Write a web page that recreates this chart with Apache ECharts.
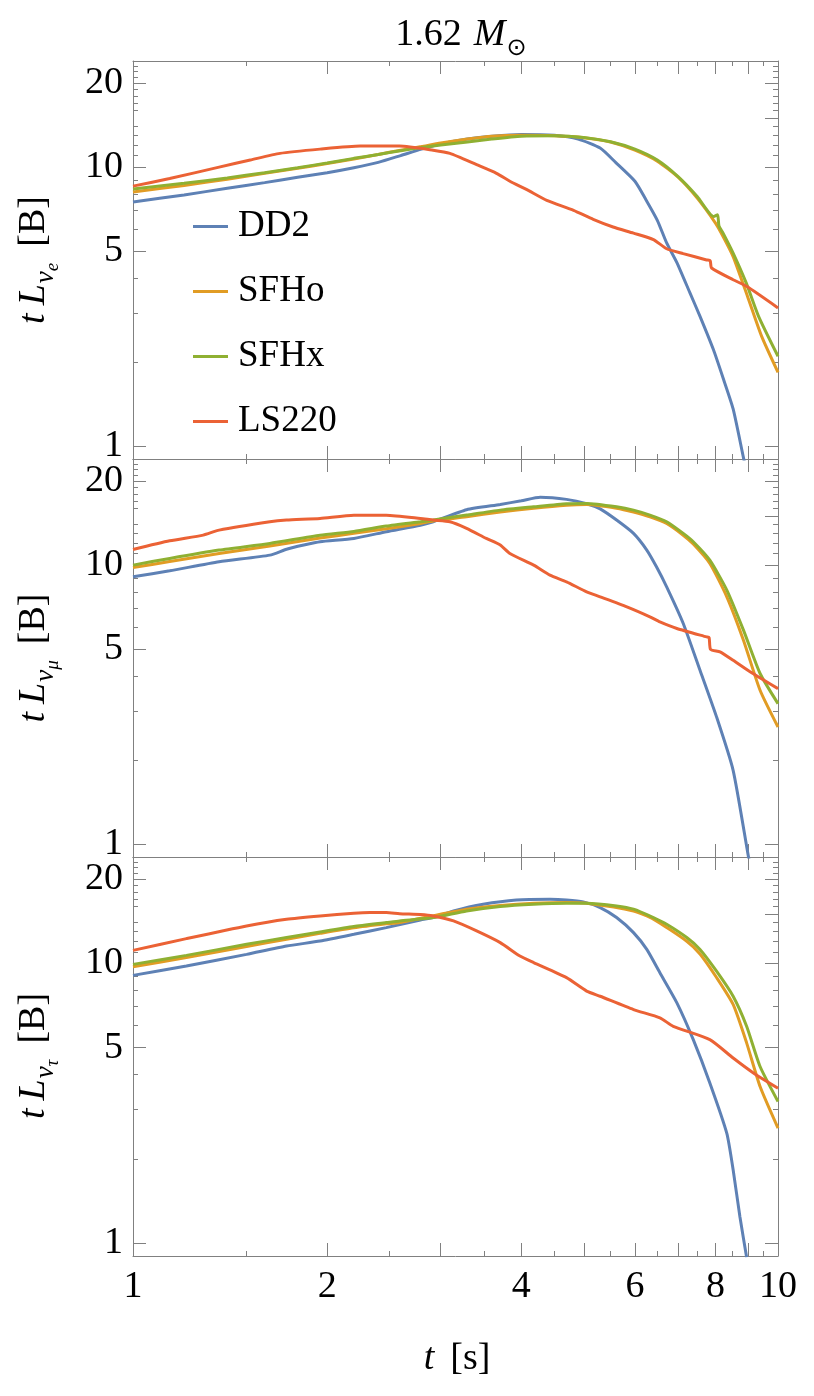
<!DOCTYPE html>
<html>
<head>
<meta charset="utf-8">
<title>1.62 M⊙ – t·L per flavour</title>
<script src="https://cdn.jsdelivr.net/npm/echarts@6.0.0/dist/echarts.min.js"></script>
<style>
  html, body { margin: 0; padding: 0; background: #fff; }
  #chart { width: 814px; height: 1396px; }
</style>
</head>
<body>
<div id="chart"></div>
<script>
// ---- data: [t (s), t*L (B)] ----
// nu_e
const nueDD2 = [[1,7.5],[1.2,7.95],[1.4,8.4],[1.6,8.8],[1.8,9.2],[2,9.55],[2.2,9.95],[2.4,10.4],[2.6,11.0],[2.8,11.6],[3,12.1],[3.3,12.6],[3.6,12.9],[4,13.1],[4.5,13.0],[4.9,12.6],[5.3,11.7],[5.6,10.4],[6,8.9],[6.25,7.6],[6.5,6.45],[6.72,5.35],[6.97,4.55],[7.3,3.55],[7.57,2.92],[7.94,2.22],[8.23,1.74],[8.52,1.36],[8.84,0.91],[8.95,0.8]];
const nueSFHo = [[1,8.15],[1.2,8.6],[1.4,9.05],[1.6,9.5],[1.8,9.9],[2,10.3],[2.2,10.7],[2.4,11.1],[2.6,11.5],[2.8,11.85],[3,12.2],[3.3,12.6],[3.6,12.9],[4,13.0],[4.5,12.95],[5,12.75],[5.5,12.3],[6,11.5],[6.5,10.5],[7,9.2],[7.5,7.73],[8,6.3],[8.22,5.64],[8.52,4.78],[8.97,3.44],[9.43,2.48],[10,1.84]];
const nueSFHx = [[1,8.35],[1.2,8.75],[1.4,9.15],[1.6,9.55],[1.8,9.95],[2,10.35],[2.2,10.75],[2.4,11.1],[2.6,11.45],[2.8,11.75],[3,12.0],[3.3,12.3],[3.6,12.6],[4,12.9],[4.5,12.95],[5,12.77],[5.5,12.32],[6,11.6],[6.5,10.6],[7,9.24],[7.5,7.83],[7.95,6.65],[8.06,6.75],[8.1,6.15],[8.22,5.8],[8.52,4.92],[8.93,3.84],[9.33,2.92],[10,2.1]];
const nueLS220 = [[1,8.55],[1.14,9.1],[1.36,10.0],[1.52,10.6],[1.69,11.2],[1.95,11.6],[2.25,11.9],[2.59,11.9],[2.92,11.5],[3.1,11.2],[3.41,10.2],[3.66,9.5],[3.84,8.9],[4.08,8.3],[4.38,7.6],[4.82,7.0],[5.17,6.5],[5.55,6.1],[5.97,5.8],[6.41,5.5],[6.72,5.1],[7.13,4.9],[7.75,4.65],[7.85,4.62],[7.89,4.35],[8.52,3.95],[8.94,3.74],[10,3.13]];
// nu_mu
const numDD2 = [[1,9.08],[1.14,9.54],[1.36,10.28],[1.63,10.86],[1.73,11.4],[1.84,11.8],[1.95,12.13],[2.2,12.46],[2.47,13.17],[2.79,13.9],[2.92,14.3],[3.29,15.8],[3.71,16.5],[4,17.0],[4.28,17.5],[4.7,17.2],[5.05,16.6],[5.3,15.9],[5.62,14.5],[5.97,12.99],[6.26,11.32],[6.48,9.86],[6.72,8.36],[7.13,6.18],[7.57,4.2],[8.03,2.86],[8.52,1.84],[9.0,0.9],[9.05,0.85]];
const numSFHo = [[1,9.8],[1.14,10.3],[1.36,11.0],[1.63,11.7],[1.95,12.5],[2.2,13.0],[2.47,13.5],[2.79,14.1],[2.92,14.4],[3.29,14.9],[3.71,15.5],[4.18,16.0],[4.7,16.4],[5.05,16.5],[5.62,16.0],[5.97,15.5],[6.33,14.9],[6.72,14.1],[7.13,12.8],[7.39,11.9],[7.84,10.14],[8.33,7.7],[8.84,5.38],[9.38,3.56],[10,2.63]];
const numSFHx = [[1,10.0],[1.14,10.57],[1.36,11.32],[1.63,11.96],[1.95,12.8],[2.2,13.2],[2.47,13.8],[2.79,14.3],[2.92,14.5],[3.29,15.11],[3.71,15.74],[4.18,16.18],[4.7,16.6],[5.05,16.64],[5.62,16.18],[5.97,15.74],[6.33,15.11],[6.72,14.3],[7.13,12.99],[7.39,12.13],[7.84,10.42],[8.33,8.14],[8.84,5.85],[9.38,4.09],[10,3.19]];
const numLS220 = [[1,11.38],[1.14,12.22],[1.285,12.81],[1.36,13.35],[1.63,14.3],[1.73,14.5],[1.95,14.7],[2.2,15.1],[2.47,15.1],[2.79,14.7],[2.92,14.5],[3.1,14.3],[3.29,13.54],[3.53,12.46],[3.71,11.8],[3.84,11.01],[4.18,10.0],[4.43,9.21],[4.7,8.71],[5.05,8.02],[5.3,7.7],[5.83,7.09],[6.33,6.53],[6.56,6.26],[6.97,5.93],[7.75,5.53],[7.82,5.5],[7.86,4.99],[8.13,4.89],[8.52,4.56],[9.05,4.15],[10,3.61]];
// nu_tau
const nutDD2 = [[1,9.06],[1.21,9.78],[1.5,10.77],[1.73,11.53],[1.95,12.02],[2.2,12.7],[2.47,13.42],[2.79,14.3],[2.92,14.58],[3.14,15.4],[3.49,16.27],[3.93,16.86],[4.43,16.96],[4.7,16.86],[4.99,16.59],[5.3,15.83],[5.62,14.58],[5.97,12.88],[6.26,11.22],[6.56,9.26],[6.97,7.23],[7.39,5.34],[7.84,3.74],[8.33,2.47],[8.52,1.83],[8.73,1.24],[8.94,0.89]];
const nutSFHo = [[1,9.73],[1.21,10.5],[1.5,11.5],[1.73,12.2],[1.95,12.8],[2.2,13.4],[2.47,13.85],[2.59,14.0],[3.29,15.6],[3.71,16.1],[4.18,16.4],[4.7,16.5],[5.05,16.4],[5.97,15.4],[6.41,14.4],[7.22,12.0],[7.57,10.8],[8.03,8.9],[8.52,7.13],[8.94,5.2],[9.38,3.63],[10,2.58]];
const nutSFHx = [[1,9.92],[1.21,10.68],[1.5,11.7],[1.73,12.37],[1.95,12.95],[2.2,13.54],[2.47,13.99],[2.59,14.18],[2.92,14.58],[3.29,15.4],[3.71,15.97],[4.18,16.27],[4.7,16.41],[5.05,16.41],[5.62,16.05],[5.97,15.62],[6.41,14.58],[6.72,13.8],[7.22,12.37],[7.57,11.22],[8.03,9.38],[8.52,7.63],[8.94,5.96],[9.38,4.28],[10,3.21]];
const nutLS220 = [[1,11.13],[1.21,12.26],[1.5,13.61],[1.73,14.38],[1.95,14.78],[2.2,15.11],[2.33,15.19],[2.47,15.19],[2.59,15.05],[2.79,14.95],[2.92,14.78],[3.14,14.18],[3.41,13.06],[3.71,11.86],[3.98,10.62],[4.18,10.06],[4.7,8.89],[5.05,7.96],[5.3,7.63],[5.97,6.84],[6.56,6.39],[6.88,5.96],[7.84,5.34],[8.52,4.59],[9.16,4.06],[10,3.58]];

const eosNames = ['DD2', 'SFHo', 'SFHx', 'LS220'];
const flavourSubs = ['e', 'μ', 'τ'];
const xMajorTicks = [1, 2, 3, 4, 5, 6, 7, 8, 9, 10];
const xMinorTicks = [1.5, 2.5, 3.5, 4.5, 5.5, 6.5, 7.5, 8.5, 9.5];
const xTickLabels = [1, 2, 4, 6, 8, 10];
const yMajorTicks = [1, 5, 10, 15, 20];
const yMinorTicks = [2, 3, 4, 6, 7, 8, 9, 11, 12, 13, 14, 16, 17, 18, 19, 21, 22, 23, 24];
const yTickLabels = [1, 5, 10, 15, 20];

const panelData = [
  [nueDD2, nueSFHo, nueSFHx, nueLS220],
  [numDD2, numSFHo, numSFHx, numLS220],
  [nutDD2, nutSFHo, nutSFHx, nutLS220]
];

// ---- look ----
const colors = ['#5e81b5', '#e19c24', '#8fb032', '#eb6235'];
const FONT = "'Liberation Serif', 'DejaVu Serif', serif";
const frameColor = '#808080';
const plotLeft = 133;
const plotWidth = 645;
const panelTop = [61, 459, 857];
const panelHeight = 398;

const chart = echarts.init(document.getElementById('chart'), null, { renderer: 'canvas' });

const fmt = v => String(+(+v).toFixed(3));

function xAxisFor(g, position, ticks, len, showLine, labels) {
  return {
    type: 'log', logBase: 10, gridIndex: g, min: 1, max: 10, position: position,
    axisLine: { show: showLine, onZero: false, lineStyle: { color: frameColor, width: 1 } },
    axisTick: { show: true, inside: true, length: len, customValues: ticks, lineStyle: { color: frameColor, width: 1 } },
    axisLabel: labels
      ? { show: true, customValues: labels, margin: 12, hideOverlap: false, showMinLabel: true, showMaxLabel: true,
          fontFamily: FONT, fontSize: 38, color: '#000', formatter: fmt }
      : { show: false },
    splitLine: { show: false },
    minorTick: { show: false },
    minorSplitLine: { show: false }
  };
}

function yAxisFor(g, position, ticks, len, showLine, labels) {
  return {
    type: 'log', logBase: 10, gridIndex: g, min: 0.9, max: 24, position: position,
    axisLine: { show: showLine, onZero: false, lineStyle: { color: frameColor, width: 1 } },
    axisTick: { show: true, inside: true, length: len, customValues: ticks, lineStyle: { color: frameColor, width: 1 } },
    axisLabel: labels
      ? { show: true, customValues: labels, margin: 10, hideOverlap: false, showMinLabel: true, showMaxLabel: true,
          fontFamily: FONT, fontSize: 38, lineHeight: 30, color: '#000', formatter: fmt }
      : { show: false },
    splitLine: { show: false },
    minorTick: { show: false },
    minorSplitLine: { show: false }
  };
}

const grids = [];
const xAxes = [];
const yAxes = [];
// main axes first so that series use index g
panelTop.forEach((top, g) => {
  grids.push({ left: plotLeft, top: top, width: plotWidth, height: g === 2 ? panelHeight + 1 : panelHeight, containLabel: false, outerBoundsMode: 'none' });
  xAxes.push(xAxisFor(g, 'bottom', xMajorTicks, 13, true, g === 2 ? xTickLabels : null));
  yAxes.push(yAxisFor(g, 'left', yMajorTicks, 13, true, yTickLabels));
});
// extra tick rows: minor ticks and the top / right frame
panelTop.forEach((top, g) => {
  xAxes.push(xAxisFor(g, 'bottom', xMinorTicks, 5, false, null));
  xAxes.push(xAxisFor(g, 'top', xMajorTicks, 13, true, null));
  xAxes.push(xAxisFor(g, 'top', xMinorTicks, 5, false, null));
  yAxes.push(yAxisFor(g, 'left', yMinorTicks, 5, false, null));
  yAxes.push(yAxisFor(g, 'right', yMajorTicks, 13, true, null));
  yAxes.push(yAxisFor(g, 'right', yMinorTicks, 5, false, null));
});

const series = [];
panelData.forEach((curves, g) => {
  curves.forEach((d, k) => {
    series.push({
      name: eosNames[k],
      type: 'line',
      xAxisIndex: g,
      yAxisIndex: g,
      data: d,
      showSymbol: false,
      symbol: 'none',
      smooth: 0.2,
      color: colors[k],
      lineStyle: { width: 3, color: colors[k] },
      emphasis: { disabled: true },
      z: 2
    });
  });
});

// ---- math-like labels built from positioned text pieces ----
const measureCtx = document.createElement('canvas').getContext('2d');
function pieceFont(p) {
  return (p.italic ? 'italic ' : '') + p.size + 'px ' + (p.family || FONT);
}
// pieces: { t, size, italic, dy (baseline shift, + = down), gap (space before) }
function mathLabel(x, y, pieces, rotation) {
  let w = 0;
  const placed = pieces.map(p => {
    measureCtx.font = pieceFont(p);
    const pw = measureCtx.measureText(p.t).width;
    const item = { p: p, x: w + (p.gap || 0) };
    w = item.x + pw;
    return item;
  });
  return {
    type: 'group',
    x: x,
    y: y,
    rotation: rotation || 0,
    silent: true,
    children: placed.map(it => ({
      type: 'text',
      x: it.x - w / 2,
      y: (it.p.dy || 0) - 0.34 * it.p.size,
      style: {
        text: it.p.t,
        fontFamily: it.p.family || FONT,
        fontSize: it.p.size,
        fontStyle: it.p.italic ? 'italic' : 'normal',
        fill: '#000',
        align: 'left',
        verticalAlign: 'middle'
      }
    }))
  };
}

const graphics = [];
flavourSubs.forEach((s, g) => {
  graphics.push(mathLabel(47, panelTop[g] + panelHeight / 2, [
    { t: 't', size: 38, italic: true },
    { t: 'L', size: 38, italic: true, gap: 8 },
    { t: 'ν', size: 27, italic: true, dy: 8, gap: 1 },
    { t: s, size: 19, italic: true, dy: 12 },
    { t: '[B]', size: 38, gap: 16 }
  ], Math.PI / 2));
});
// title
graphics.push(mathLabel(461, 48, [
  { t: '1.62', size: 38 },
  { t: 'M', size: 38, italic: true, gap: 12 },
  { t: '⊙', size: 24, dy: 9, gap: 1, family: "'DejaVu Sans', sans-serif" }
]));
// x-axis title
graphics.push(mathLabel(457, 1372, [
  { t: 't', size: 38, italic: true },
  { t: '[s]', size: 38, gap: 16 }
]));

chart.setOption({
  animation: false,
  backgroundColor: '#fff',
  grid: grids,
  xAxis: xAxes,
  yAxis: yAxes,
  legend: {
    data: eosNames,
    orient: 'vertical',
    left: 188,
    top: 203,
    itemWidth: 35,
    itemHeight: 3,
    icon: 'rect',
    itemGap: 28,
    selectedMode: false,
    textStyle: { fontFamily: FONT, fontSize: 37, lineHeight: 37, color: '#000', padding: [0, 0, 0, 5] }
  },
  graphic: graphics,
  series: series
});

window.addEventListener('resize', () => chart.resize());
</script>
</body>
</html>
